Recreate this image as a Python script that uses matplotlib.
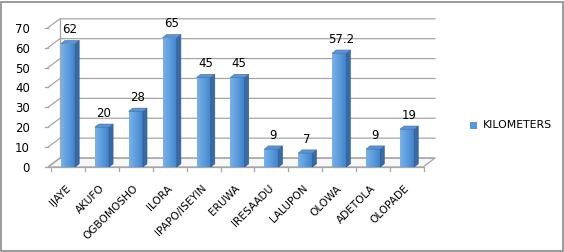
import numpy as np
import matplotlib.pyplot as plt
from matplotlib.patches import Polygon, Rectangle
from matplotlib.colors import LinearSegmentedColormap

towns = ['IJAYE', 'AKUFO', 'OGBOMOSHO', 'ILORA', 'IPAPO/ISEYIN', 'ERUWA',
         'IRESAADU', 'LALUPON', 'OLOWA', 'ADETOLA', 'OLOPADE']
km = [62, 20, 28, 65, 45, 45, 9, 7, 57.2, 9, 19]
labels = ['62', '20', '28', '65', '45', '45', '9', '7', '57.2', '9', '19']
yticks = [0, 10, 20, 30, 40, 50, 60, 70]

fig = plt.figure(figsize=(5.64, 2.52), dpi=100)
fig.patches.append(Rectangle((0.002, 0.004), 0.996, 0.99, transform=fig.transFigure,
                             fill=False, edgecolor='#8a8a8a', linewidth=1.2))
ax = fig.add_axes([48/564, 1-168/252, (435-48)/564, (168-17)/252])

x0, x1 = -0.59, 10.47      # front floor edges
ddx, ddy = 0.354, 4.5       # depth offset of back wall
grid_c = '#a6a6a6'

# floor
ax.add_patch(Polygon([(x0, 0), (x1, 0), (x1 + ddx, ddy), (x0 + ddx, ddy)],
                     closed=True, facecolor='#f7f7f7', edgecolor=grid_c, lw=0.9, clip_on=False))
# back wall grid
for v in yticks:
    ax.plot([x0, x0 + ddx, x1 + ddx], [v, v + ddy, v + ddy], color=grid_c, lw=0.9, clip_on=False)
    ax.plot([x0 - 0.08, x0], [v, v], color=grid_c, lw=0.9, clip_on=False)
ax.plot([x0 + ddx, x0 + ddx], [ddy, 70 + ddy], color=grid_c, lw=0.9, clip_on=False)

# front axis line with ticks at category boundaries
ax.plot([x0, x1], [0, 0], color=grid_c, lw=0.9, clip_on=False)
for b in np.arange(-0.5, len(towns), 1.0):
    ax.plot([b, b], [0, -2.2], color=grid_c, lw=0.9, clip_on=False)

# bars
w = 0.42
sdx, sdy = 0.12, 1.6
grad = np.linspace(0, 1, 64).reshape(1, -1)
cmap = LinearSegmentedColormap.from_list('b', ['#7ab1e7', '#5b9bdc', '#3f80c8'])
for i, v in enumerate(km):
    l, r = i - w/2, i + w/2
    front = Rectangle((l, 0), w, v, facecolor='none', edgecolor='none')
    ax.add_patch(front)
    im = ax.imshow(grad, extent=(l, r, 0, v), aspect='auto', cmap=cmap, zorder=3)
    im.set_clip_path(front)
    ax.add_patch(Polygon([(r, 0), (r + sdx, sdy), (r + sdx, v + sdy), (r, v)],
                         closed=True, facecolor='#3a6aa3', edgecolor='#2f5a8c', lw=0.4, zorder=3))
    ax.add_patch(Polygon([(l, v), (r, v), (r + sdx, v + sdy), (l + sdx, v + sdy)],
                         closed=True, facecolor='#5e93cf', edgecolor='#3f6fa6', lw=0.4, zorder=3))
    ax.annotate(labels[i], (i + 0.05, v + sdy), xytext=(0, 3), textcoords='offset points',
                ha='center', va='bottom', fontsize=8.5, color='black')

ax.set_yticks(yticks)
ax.set_yticklabels([str(t) for t in yticks], fontsize=8.5)
ax.set_xticks(np.arange(len(towns)) - 0.08)
ax.set_xticklabels(towns, rotation=45, ha='right', rotation_mode='anchor', fontsize=7.6)
ax.tick_params(axis='y', length=0, pad=13)
ax.tick_params(axis='x', length=0, pad=11)
for s in ax.spines.values():
    s.set_visible(False)
ax.set_xlim(x0, x1 + ddx)
ax.set_ylim(-0.5, 75.4)

fig.patches.append(Rectangle((470/564, 1-129/252), 7/564, 7/252, transform=fig.transFigure,
                             facecolor='#5898da', edgecolor='none'))
fig.text(483/564, 1-125.5/252, 'KILOMETERS', fontsize=7.8, va='center', ha='left')

plt.savefig('out.png', dpi=100)
